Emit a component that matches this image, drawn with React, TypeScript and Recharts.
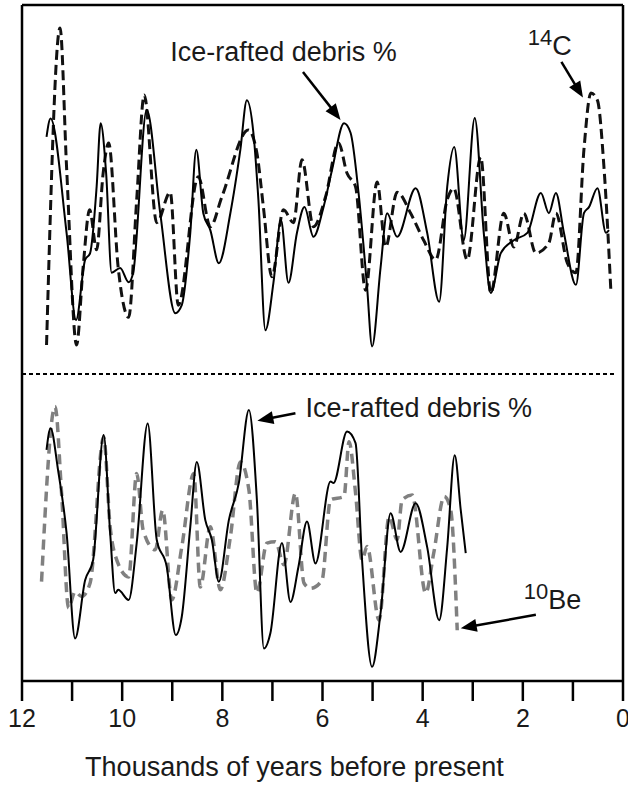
import React from 'react';
import { LineChart, Line, XAxis, YAxis, ReferenceLine, ReferenceDot } from 'recharts';

const FONT = '"Liberation Sans", Arial, Helvetica, sans-serif';

// Age axis, thousands of years before present
const ageTicks = [0, 1, 2, 3, 4, 5, 6, 7, 8, 9, 10, 11, 12];
const ageTickLabels = ['0', '', '2', '', '4', '', '6', '', '8', '', '10', '', '12'];

// Upper panel: ice-rafted debris (solid)
const upperIrdAge = [11.51, 11.43, 11.11, 10.92, 10.74, 10.64, 10.51, 10.43, 10.32, 10.21, 10.04, 9.87, 9.78, 9.51, 9.24, 8.94, 8.81, 8.64, 8.52, 8.38, 8.24, 8.07, 7.84, 7.64, 7.51, 7.38, 7.28, 7.14, 6.98, 6.83, 6.68, 6.51, 6.36, 6.18, 5.98, 5.81, 5.57, 5.44, 5.28, 5.11, 5.01, 4.84, 4.71, 4.51, 4.14, 3.91, 3.67, 3.51, 3.37, 3.18, 2.96, 2.78, 2.64, 2.44, 2.18, 1.91, 1.64, 1.48, 1.34, 1.18, 0.94, 0.78, 0.68, 0.51, 0.34, 0.28];
const upperIrdPct = [80.5, 83.2, 66.3, 53.4, 62.3, 63.3, 73.1, 82.5, 75.1, 60.4, 61.1, 59.0, 60.4, 84.5, 69.2, 54.4, 55.6, 66.3, 78.6, 69.2, 66.7, 61.8, 69.2, 78.6, 85.9, 81.1, 71.2, 51.9, 58.9, 68.2, 58.9, 66.3, 70.1, 65.7, 70.1, 75.6, 82.5, 81.1, 72.2, 58.3, 49.5, 61.2, 69.2, 65.7, 72.9, 66.3, 56.1, 73.1, 79.0, 65.2, 83.3, 66.3, 57.4, 63.3, 65.2, 66.3, 72.2, 69.2, 72.2, 66.3, 58.6, 69.2, 70.1, 72.9, 66.3, 66.7];

// Upper panel: 14C (dashed)
const c14Age = [11.51, 11.24, 11.11, 10.91, 10.78, 10.65, 10.51, 10.38, 10.27, 10.08, 9.87, 9.71, 9.56, 9.31, 9.04, 8.88, 8.48, 8.24, 8.01, 7.48, 7.31, 7.18, 7.01, 6.78, 6.58, 6.41, 6.18, 5.94, 5.68, 5.51, 5.34, 5.14, 4.91, 4.74, 4.51, 4.24, 3.98, 3.74, 3.51, 3.38, 3.11, 2.84, 2.64, 2.38, 2.18, 1.98, 1.74, 1.48, 1.34, 1.11, 0.94, 0.78, 0.64, 0.51, 0.38, 0.24];
const c14Val = [49.7, 96.6, 76.0, 49.7, 61.2, 69.7, 63.8, 75.1, 79.6, 61.2, 53.8, 71.2, 86.7, 67.8, 72.3, 55.6, 74.6, 67.2, 71.6, 81.5, 78.1, 70.1, 59.8, 69.7, 67.8, 77.1, 67.2, 71.6, 79.6, 75.1, 73.1, 57.8, 73.8, 64.2, 72.3, 69.2, 65.2, 62.3, 71.2, 72.9, 62.3, 77.5, 57.4, 69.2, 64.2, 69.2, 63.3, 64.8, 69.2, 61.8, 60.4, 78.6, 87.0, 85.9, 76.0, 57.4];

// Lower panel: ice-rafted debris (solid)
const lowerIrdAge = [11.51, 11.43, 11.28, 11.11, 10.94, 10.74, 10.58, 10.37, 10.24, 10.14, 10.08, 9.87, 9.71, 9.49, 9.31, 9.11, 8.93, 8.81, 8.64, 8.51, 8.34, 8.21, 8.07, 7.87, 7.67, 7.47, 7.31, 7.17, 7.04, 6.81, 6.64, 6.48, 6.31, 6.14, 5.84, 5.78, 5.51, 5.34, 5.21, 5.01, 4.84, 4.64, 4.44, 4.14, 3.91, 3.67, 3.51, 3.36, 3.24, 3.14];
const lowerIrdPct = [34.2, 37.4, 31.2, 21.9, 6.3, 14.9, 17.9, 36.4, 21.9, 13.0, 13.5, 12.0, 20.4, 38.1, 20.9, 16.9, 6.8, 9.5, 22.8, 32.4, 23.8, 20.9, 14.7, 23.8, 29.3, 40.1, 26.8, 4.8, 7.1, 20.4, 11.7, 16.9, 23.6, 17.4, 29.5, 29.3, 36.9, 35.2, 17.9, 2.1, 10.1, 24.8, 19.1, 26.3, 19.8, 9.0, 19.8, 33.4, 25.3, 18.9];

// Lower panel: 10Be (grey dashed)
const be10Age = [11.61, 11.34, 11.21, 11.07, 10.94, 10.81, 10.64, 10.37, 10.24, 10.14, 9.87, 9.71, 9.58, 9.34, 9.19, 9.01, 8.81, 8.57, 8.44, 8.24, 8.04, 7.84, 7.64, 7.47, 7.31, 7.11, 6.94, 6.77, 6.54, 6.37, 6.24, 6.01, 5.84, 5.57, 5.47, 5.34, 5.21, 5.11, 4.87, 4.67, 4.51, 4.41, 4.21, 3.94, 3.78, 3.57, 3.44, 3.31];
const be10Val = [14.7, 40.6, 27.8, 10.8, 13.2, 12.5, 14.5, 36.1, 22.8, 18.6, 15.4, 30.7, 22.3, 19.4, 25.3, 12.0, 19.8, 30.7, 13.9, 22.8, 13.5, 21.3, 32.4, 28.3, 13.0, 20.4, 20.6, 17.2, 27.8, 14.5, 13.7, 14.9, 26.8, 27.3, 35.4, 27.8, 17.9, 19.9, 9.0, 24.3, 20.9, 26.8, 27.5, 13.0, 18.9, 27.3, 25.3, 7.5];

// Level separating the two panels
const panelDivider = 45.4;

const toPoints = (ages: number[], vals: number[]) => ages.map((age, i) => ({ age, v: vals[i] }));

const upperIrd = toPoints(upperIrdAge, upperIrdPct);
const c14 = toPoints(c14Age, c14Val);
const lowerIrd = toPoints(lowerIrdAge, lowerIrdPct);
const be10 = toPoints(be10Age, be10Val);

// Straight arrow with a filled head at its end point
const Arrow = (props: any) => {
  const { x1, y1, x2, y2 } = props;
  const dx = x2 - x1;
  const dy = y2 - y1;
  const len = Math.sqrt(dx * dx + dy * dy) || 1;
  const ux = dx / len;
  const uy = dy / len;
  const head = 16;
  const half = 6.5;
  const bx = x2 - ux * head;
  const by = y2 - uy * head;
  const pts = `${x2},${y2} ${bx - uy * half},${by + ux * half} ${bx + uy * half},${by - ux * half}`;
  return (
    <g>
      <line x1={x1} y1={y1} x2={bx + ux * 2} y2={by + uy * 2} stroke="#000" strokeWidth={2.5} />
      <polygon points={pts} fill="#000" />
    </g>
  );
};

const plainLabel = (text: string) => (p: any) => (
  <text x={p.cx} y={p.cy} fontFamily={FONT} fontSize={27} fill="#1a1a1a" dominantBaseline="central">
    {text}
  </text>
);

const isotopeLabel = (mass: string, element: string) => (p: any) => (
  <text x={p.cx} y={p.cy} fontFamily={FONT} fill="#1a1a1a">
    <tspan fontSize={22} dy={-10}>{mass}</tspan>
    <tspan fontSize={27} dy={10}>{element}</tspan>
  </text>
);

export default function App() {
  return (
    <div style={{ position: 'absolute', left: 0, top: 0, background: '#fff' }}>
      <LineChart width={628} height={785} margin={{ top: 5, right: 5, left: 22, bottom: 0 }}>
        <XAxis
          dataKey="age"
          type="number"
          domain={[0, 12]}
          reversed
          ticks={ageTicks}
          interval={0}
          allowDataOverflow
          tickSize={20}
          tickMargin={8}
          stroke="#000"
          strokeWidth={2.5}
          tick={{ fill: '#1a1a1a', fontSize: 25, fontFamily: FONT }}
          tickFormatter={(t: number) => ageTickLabels[ageTicks.indexOf(t)] ?? ''}
          height={104}
          label={{
            value: 'Thousands of years before present',
            position: 'insideBottom',
            offset: 9,
            dx: -28,
            fill: '#1a1a1a',
            fontSize: 27,
            fontFamily: FONT,
          }}
        />
        <YAxis type="number" domain={[0, 100]} hide allowDataOverflow />

        <ReferenceLine x={12} stroke="#000" strokeWidth={2.5} />
        <ReferenceLine x={0} stroke="#000" strokeWidth={2.5} />
        <ReferenceLine y={100} stroke="#000" strokeWidth={2.5} />
        <ReferenceLine
          segment={[{ x: 12, y: panelDivider }, { x: 0.15, y: panelDivider }]}
          stroke="#000"
          strokeWidth={2}
          strokeDasharray="4 3"
        />

        <Line data={c14} dataKey="v" type="monotone" stroke="#111" strokeWidth={3} strokeDasharray="10 5" dot={false} isAnimationActive={false} />
        <Line data={upperIrd} dataKey="v" type="monotone" stroke="#000" strokeWidth={2} dot={false} isAnimationActive={false} />
        <Line data={be10} dataKey="v" type="monotone" stroke="#808080" strokeWidth={3.5} strokeDasharray="10 6" dot={false} isAnimationActive={false} />
        <Line data={lowerIrd} dataKey="v" type="monotone" stroke="#000" strokeWidth={2} dot={false} isAnimationActive={false} />

        <ReferenceLine segment={[{ x: 6.39, y: 90.1 }, { x: 5.64, y: 83.0 }]} shape={Arrow} />
        <ReferenceLine segment={[{ x: 1.23, y: 91.6 }, { x: 0.8, y: 86.3 }]} shape={Arrow} />
        <ReferenceLine segment={[{ x: 6.54, y: 39.6 }, { x: 7.3, y: 38.5 }]} shape={Arrow} />
        <ReferenceLine segment={[{ x: 1.74, y: 9.8 }, { x: 3.24, y: 7.8 }]} shape={Arrow} />

        <ReferenceDot x={9.04} y={93.1} r={0} shape={plainLabel('Ice-rafted debris %')} />
        <ReferenceDot x={1.9} y={92.6} r={0} shape={isotopeLabel('14', 'C')} />
        <ReferenceDot x={6.34} y={40.4} r={0} shape={plainLabel('Ice-rafted debris %')} />
        <ReferenceDot x={1.98} y={10.7} r={0} shape={isotopeLabel('10', 'Be')} />
      </LineChart>
    </div>
  );
}
